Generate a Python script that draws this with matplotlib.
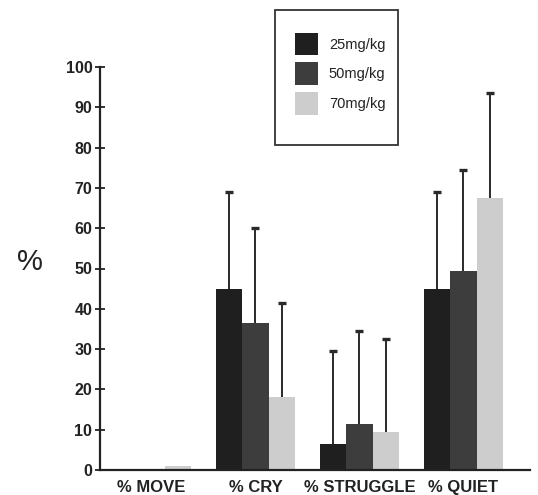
import numpy as np
import matplotlib
matplotlib.use("Agg")
import matplotlib.pyplot as plt
from matplotlib.patches import Rectangle, Patch

categories = ["% MOVE", "% CRY", "% STRUGGLE", "% QUIET"]
series_names = ["25mg/kg", "50mg/kg", "70mg/kg"]
vals_25 = [0, 45, 6.5, 45]
vals_50 = [0, 36.5, 11.5, 49.5]
vals_70 = [1, 18, 9.5, 67.5]
err_25 = [np.nan, 24, 23, 24]
err_50 = [np.nan, 23.5, 23, 25]
err_70 = [np.nan, 23.5, 23, 26]
yticks = list(range(0, 101, 10))

colors = ["#1f1f1f", "#3d3d3d", "#cdcdcd"]

plt.rcParams['font.family'] = ['Liberation Sans', 'DejaVu Sans']

fig = plt.figure(figsize=(5.38, 4.95), dpi=100)
ax = fig.add_axes([100/538, 1 - 470/495, 430/538, (470 - 67)/495])

x = np.arange(len(categories))
w = 0.256
series = [vals_25, vals_50, vals_70]
errs = [err_25, err_50, err_70]
for i, (v, e, c, n) in enumerate(zip(series, errs, colors, series_names)):
    pos = x + (i - 1) * w
    v = np.array(v, dtype=float)
    ax.bar(pos, v, width=w, color=c, edgecolor='none', label=n, zorder=2)
    e = np.array(e, dtype=float)
    m = ~np.isnan(e)
    ax.errorbar(pos[m], v[m], yerr=[np.zeros(m.sum()), e[m]],
                fmt='none', ecolor='#2a2a2a', elinewidth=1.4, capsize=0,
                zorder=1)
    ax.plot(pos[m], v[m] + e[m], linestyle='none', marker='_',
            markersize=6.4, markeredgewidth=2.4, color='#2a2a2a', zorder=1)

ax.set_xlim(-0.495, 3.64)
ax.set_ylim(0, 100)
ax.set_yticks(yticks)
ax.set_yticklabels([str(t) for t in yticks], fontsize=11.5, fontweight='bold', color='#222222')
ax.set_xticks(x)
ax.set_xticklabels(categories, fontsize=12, fontweight='bold', color='#222222')
ax.tick_params(axis='y', direction='inout', length=7, width=1.3, pad=2, color='#222222')
ax.tick_params(axis='x', length=0, pad=7)
for s in ['top', 'right']:
    ax.spines[s].set_visible(False)
for s in ['left', 'bottom']:
    ax.spines[s].set_linewidth(1.6)
    ax.spines[s].set_color('#222222')
ax.spines['left'].set_bounds(0, 100)

fig.text(30/538, 1 - 262/495, "%", fontsize=21, ha='center', va='center', color='#222222')

# legend frame
fig.patches.append(Rectangle((275/538, 1 - 145/495), 123/538, 135/495,
                             transform=fig.transFigure, fill=False,
                             edgecolor='#333333', linewidth=1.3))
handles = [Patch(facecolor=c, edgecolor='none') for c in colors]
fig.legend(handles, series_names, loc='upper left',
           bbox_to_anchor=(283/538, 1 - 21/495), frameon=False,
           fontsize=10.5, handlelength=1.6, handleheight=2.0,
           labelspacing=0.5, handletextpad=0.75, borderpad=0.3,
           labelcolor='#222222')

fig.savefig("out.png", dpi=100)
